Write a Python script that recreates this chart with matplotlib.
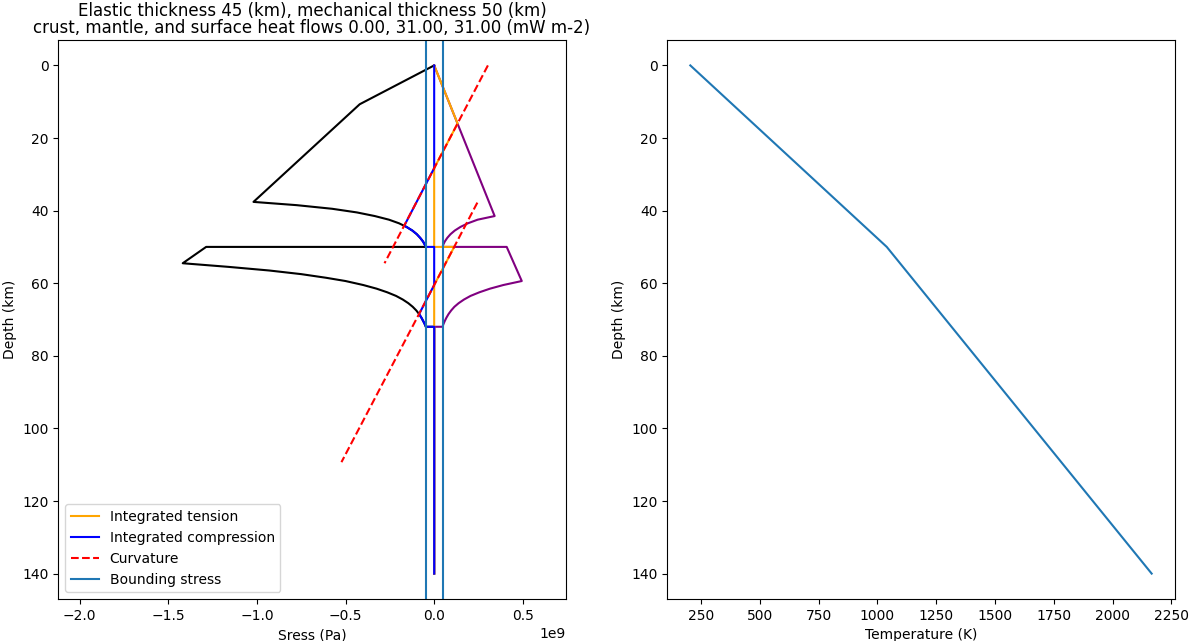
import numpy as np
import matplotlib
matplotlib.use("Agg")
import matplotlib.pyplot as plt

# ---------------- data (stress in units of 1e9 Pa, depth in km) ----------------
# compression strength envelope (black)
env_c_depth = [0, 10.7, 37.6, 38.5, 39.5, 40.5, 41.5, 42.5, 43.5, 44.5, 45.5, 46.5,
               47.5, 48.5, 49.3, 50.0, 50.0, 54.5, 55.5, 56.5, 57.5, 58.5, 59.4,
               60.5, 61.5, 62.5, 63.5, 64.5, 65.5, 66.5, 67.5, 68.5, 69.5, 70.5,
               71.3, 72.0, 72.0, 140.0]
env_c_stress = [0, -0.420, -1.019, -0.775, -0.575, -0.436, -0.335, -0.255, -0.198,
                -0.156, -0.123, -0.098, -0.079, -0.063, -0.054, -0.047, -1.286,
                -1.418, -1.16, -0.93, -0.75, -0.61, -0.50, -0.40, -0.325, -0.265,
                -0.215, -0.177, -0.146, -0.121, -0.101, -0.085, -0.072, -0.061,
                -0.053, -0.047, 0, 0]

# tension strength envelope (purple)
env_t_depth = [0, 41.5, 42.5, 43.5, 44.5, 45.5, 46.5, 47.5, 48.5, 49.3, 50.0, 50.0,
               59.4, 60.5, 61.5, 62.5, 63.5, 64.5, 65.5, 66.5, 67.5, 68.5, 69.5,
               70.5, 71.3, 72.0, 72.0, 140.0]
env_t_stress = [0, 0.341, 0.245, 0.19, 0.148, 0.116, 0.092, 0.074, 0.060, 0.052,
                0.047, 0.409, 0.494, 0.39, 0.315, 0.255, 0.205, 0.168, 0.138,
                0.114, 0.096, 0.081, 0.069, 0.059, 0.052, 0.047, 0, 0]

# integrated tension (orange)
ten_depth = [0, 16.0, 28.3, 50.0, 50.0, 60.5, 140.0]
ten_stress = [0, 0.132, 0, 0, 0.113, 0, 0]

# integrated compression (blue)
comp_depth = [0, 28.3, 44.2, 44.5, 45.5, 46.5, 47.5, 48.5, 49.3, 50.0, 50.0, 60.5,
              68.5, 69.5, 70.5, 71.3, 72.0, 72.0, 140.0]
comp_stress = [0, 0, -0.169, -0.156, -0.123, -0.098, -0.079, -0.063, -0.054, -0.047,
               0, 0, -0.085, -0.072, -0.061, -0.053, -0.047, 0, 0]

# curvature (bending) stress lines (red dashed)
curv1_depth = [0, 54.5]
curv1_stress = [0.303, -0.280]
curv2_depth = [37.8, 109.3]
curv2_stress = [0.2435, -0.523]

# bounding stress
bound_stress = 0.0475

# temperature profile
temp_depth = [0, 50, 140]
temp_K = [205, 1040, 2166]

title_text = ("Elastic thickness 45 (km), mechanical thickness 50 (km)\n"
              "crust, mantle, and surface heat flows 0.00, 31.00, 31.00 (mW m-2)")

scale = 1e9

# ---------------- plotting ----------------
fig, (ax1, ax2) = plt.subplots(1, 2, figsize=(11.89, 6.41), dpi=100)
fig.subplots_adjust(left=0.049, right=0.988, top=0.9376, bottom=0.0655, wspace=0.2)

ax1.plot(np.array(env_c_stress) * scale, env_c_depth, color="black")
ax1.plot(np.array(env_t_stress) * scale, env_t_depth, color="purple")
ax1.plot(np.array(ten_stress) * scale, ten_depth, color="orange", label="Integrated tension")
ax1.plot(np.array(comp_stress) * scale, comp_depth, color="blue", label="Integrated compression")
ax1.plot(np.array(curv1_stress) * scale, curv1_depth, "r--", label="Curvature")
ax1.plot(np.array(curv2_stress) * scale, curv2_depth, "r--")
ax1.axvline(-bound_stress * scale, color="C0", label="Bounding stress")
ax1.axvline(bound_stress * scale, color="C0")

ax1.set_xlim(-2.12e9, 0.742e9)
ax1.set_ylim(147.0, -7.0)
ax1.set_xlabel("Sress (Pa)")
ax1.set_ylabel("Depth (km)")
ax1.set_title(title_text, pad=5, linespacing=0.95)
ax1.legend(loc="lower left")

ax2.plot(temp_K, temp_depth, color="C0")
ax2.invert_yaxis()
ax2.set_xlabel("Temperature (K)")
ax2.set_ylabel("Depth (km)")

fig.savefig("out.png", dpi=100)
